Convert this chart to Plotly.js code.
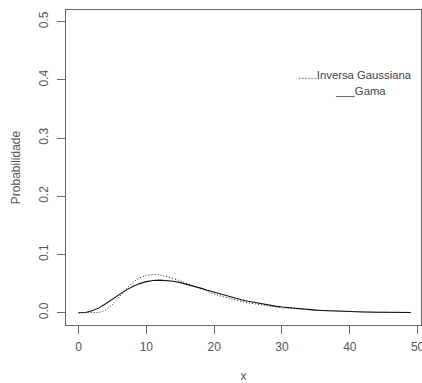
<!DOCTYPE html>
<html>
<head>
<meta charset="utf-8">
<script src="https://cdn.plot.ly/plotly-3.0.1.min.js"></script>
<style>html,body{margin:0;padding:0;background:#fff;}#chart{width:422px;height:383px;}</style>
</head>
<body>
<div id="chart"></div>
<script>
// x values
const xVals = [0,1,2,3,4,5,6,7,8,9,10,11,12,13,14,15,16,17,18,19,20,21,22,23,24,25,26,27,28,29,30,31,32,33,34,35,36,37,38,39,40,42,44,46,48,49];
// "Gama" density (solid)
const gamaVals = [0,0.0005,0.0032,0.0083,0.0153,0.0233,0.0314,0.0388,0.0451,0.0500,0.0534,0.0554,0.0560,0.0555,0.0540,0.0517,0.0489,0.0456,0.0422,0.0386,0.0351,0.0316,0.0283,0.0252,0.0223,0.0196,0.0172,0.0150,0.0130,0.0113,0.0097,0.0084,0.0072,0.0061,0.0052,0.0044,0.0038,0.0032,0.0027,0.0023,0.0019,0.0013,0.0009,0.0006,0.0004,0.0004];
// "Inversa Gaussiana" density (dotted)
const invGaussVals = [0,0,0,0.0005,0.0044,0.0139,0.0271,0.0406,0.0519,0.0599,0.0644,0.0659,0.0650,0.0625,0.0588,0.0545,0.0499,0.0452,0.0407,0.0363,0.0323,0.0286,0.0252,0.0222,0.0195,0.0170,0.0149,0.0130,0.0113,0.0099,0.0086,0.0075,0.0065,0.0056,0.0049,0.0043,0.0037,0.0032,0.0028,0.0024,0.0021,0.0016,0.0012,0.0009,0.0007,0.0006];
const xTicks = [0,10,20,30,40,50];
const yTicks = [0,0.1,0.2,0.3,0.4,0.5];
const yTickText = ["0.0","0.1","0.2","0.3","0.4","0.5"];
const legendTexts = ["......Inversa Gaussiana","___Gama"];

const font = {family: "Liberation Sans, Arial, sans-serif", size: 12, color: "#555"};
const legFont = {family: "Liberation Sans, Arial, sans-serif", size: 11.3, color: "#444"};

const traces = [
  {x: xVals, y: invGaussVals, mode: "lines", line: {color: "#222", width: 1, dash: "1px,2px"}, hoverinfo: "skip"},
  {x: xVals, y: gamaVals, mode: "lines", line: {color: "#111", width: 1.1}, hoverinfo: "skip"}
];

const layout = {
  width: 422, height: 383,
  margin: {l: 66, r: 1, t: 10, b: 58},
  paper_bgcolor: "#fff", plot_bgcolor: "#fff",
  showlegend: false,
  font: font,
  xaxis: {
    range: [-1.85, 50.5], tickvals: xTicks, ticktext: xTicks.map(String),
    showgrid: false, zeroline: false, showline: true, mirror: true,
    linecolor: "#666", linewidth: 1,
    ticks: "outside", ticklen: 8, tickcolor: "#666",
    ticklabelstandoff: 3, ticklabeloverflow: "allow",
    tickfont: font,
    title: {text: "x", font: font, standoff: 19}
  },
  yaxis: {
    range: [-0.0211, 0.52], tickvals: yTicks, ticktext: yTickText,
    showgrid: false, zeroline: false, showline: true, mirror: true,
    linecolor: "#666", linewidth: 1,
    ticks: "outside", ticklen: 8, tickcolor: "#666",
    tickangle: -90, ticklabelstandoff: 4,
    tickfont: font,
    title: {text: "Probabilidade", font: font, standoff: 14}
  },
  annotations: [
    {x: 40.8, y: 0.408, xref: "x", yref: "y", text: legendTexts[0], showarrow: false, xanchor: "center", yanchor: "middle", font: legFont},
    {x: 41.6, y: 0.381, xref: "x", yref: "y", text: legendTexts[1], showarrow: false, xanchor: "center", yanchor: "middle", font: legFont}
  ]
};

Plotly.newPlot("chart", traces, layout, {displayModeBar: false, staticPlot: true});
</script>
</body>
</html>
